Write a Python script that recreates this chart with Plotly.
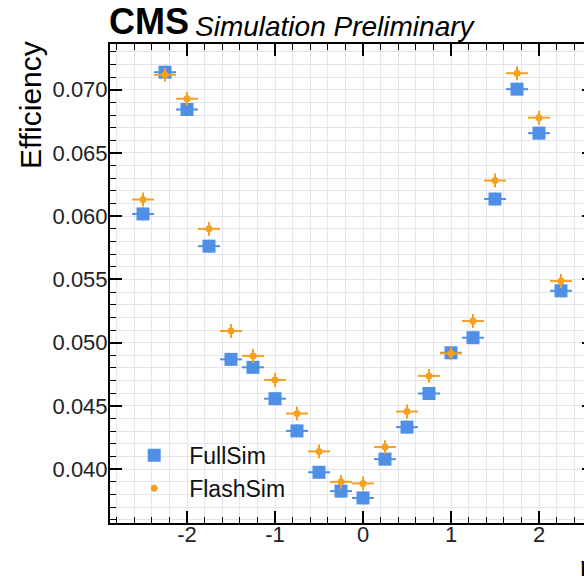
import plotly.graph_objects as go

# ---- data ----
eta = [-2.5, -2.25, -2.0, -1.75, -1.5, -1.25, -1.0, -0.75, -0.5, -0.25,
       0.0, 0.25, 0.5, 0.75, 1.0, 1.25, 1.5, 1.75, 2.0, 2.25]
eta_halfwidth = [0.125] * len(eta)

fullsim_eff = [0.06018, 0.07139, 0.06844, 0.05763, 0.04868, 0.04805, 0.04557,
               0.04302, 0.03975, 0.03826, 0.03772, 0.04079, 0.04332, 0.04598,
               0.04920, 0.05039, 0.06136, 0.07005, 0.06657, 0.05410]
fullsim_err = [0.0005] * len(eta)

flashsim_eff = [0.06132, 0.07118, 0.06929, 0.05900, 0.05092, 0.04895, 0.04705,
                0.04440, 0.04140, 0.03899, 0.03887, 0.04174, 0.04455, 0.04737,
                0.04915, 0.05171, 0.06282, 0.07131, 0.06779, 0.05487]
flashsim_err = [0.00055] * len(eta)

x_tickvals = [-2, -1, 0, 1, 2]
x_ticktext = ["-2", "-1", "0", "1", "2"]
y_tickvals = [0.040, 0.045, 0.050, 0.055, 0.060, 0.065, 0.070]
y_ticktext = ["0.040", "0.045", "0.050", "0.055", "0.060", "0.065", "0.070"]

BLUE = "#4f8fe6"
ORANGE = "#f5a01e"
FONT = "Liberation Sans, Arial, Helvetica, sans-serif"

fig = go.Figure()
fig.add_trace(go.Scatter(
    x=eta, y=fullsim_eff, mode="markers", name="FullSim", legendgroup="a",
    marker=dict(symbol="square", size=13, color=BLUE),
    error_x=dict(type="data", array=eta_halfwidth, color=BLUE, thickness=2, width=0),
    error_y=dict(type="data", array=fullsim_err, color=BLUE, thickness=2, width=0),
))
fig.add_trace(go.Scatter(
    x=eta, y=flashsim_eff, mode="markers", name="FlashSim", legendgroup="b",
    marker=dict(symbol="circle", size=7, color=ORANGE),
    error_x=dict(type="data", array=eta_halfwidth, color=ORANGE, thickness=2, width=0),
    error_y=dict(type="data", array=flashsim_err, color=ORANGE, thickness=2, width=0),
))

GRID = "#e4e4ec"
axis_common = dict(
    showline=True, linecolor="black", linewidth=2, mirror="allticks",
    ticks="inside", ticklen=12, tickwidth=1.5, tickcolor="black",
    showgrid=True, gridcolor=GRID, gridwidth=1, zeroline=False,
    tickfont=dict(family=FONT, size=22, color="#222"),
)

fig.update_xaxes(
    range=[-2.875, 2.625], tickmode="array", tickvals=x_tickvals, ticktext=x_ticktext,
    ticklabelstandoff=-9,
    minor=dict(dtick=0.2, tick0=0, ticks="inside", ticklen=6, tickwidth=1.2,
               tickcolor="black", showgrid=True, gridcolor=GRID, gridwidth=1),
    **axis_common,
)
fig.update_yaxes(
    range=[0.035737, 0.07362], tickmode="array", tickvals=y_tickvals, ticktext=y_ticktext,
    ticklabelstandoff=-4,
    minor=dict(dtick=0.001, tick0=0, ticks="inside", ticklen=6, tickwidth=1.2,
               tickcolor="black", showgrid=True, gridcolor=GRID, gridwidth=1),
    **axis_common,
)

fig.update_layout(
    width=640, height=584,
    margin=dict(l=110, r=46, t=44, b=61),
    paper_bgcolor="white", plot_bgcolor="white",
    font=dict(family=FONT, color="black"),
    showlegend=True,
    legend=dict(
        x=0.019, y=0.186, xanchor="left", yanchor="top",
        bgcolor="rgba(0,0,0,0)", borderwidth=0,
        font=dict(family=FONT, size=23, color="#111"),
        traceorder="grouped", tracegroupgap=0, itemwidth=60,
    ),
    annotations=[
        dict(text="<b>CMS</b>", xref="paper", yref="paper", x=0, y=1,
             xanchor="left", yanchor="bottom", showarrow=False, xshift=-3,
             font=dict(family=FONT, size=36, color="black")),
        dict(text="<i>Simulation Preliminary</i>", xref="paper", yref="paper",
             x=0.172, y=1, xanchor="left", yanchor="bottom", showarrow=False,
             font=dict(family=FONT, size=28, color="black")),
        dict(text="Efficiency", xref="paper", yref="paper", x=-0.1652, y=1,
             xanchor="center", yanchor="top", textangle=-90, showarrow=False,
             yshift=5, font=dict(family=FONT, size=30, color="black")),
        dict(text="η", xref="paper", yref="paper", x=1, y=-0.0919,
             xanchor="right", yanchor="middle", showarrow=False, xshift=3,
             font=dict(family=FONT, size=27, color="black")),
    ],
)

fig.write_html("out.html", post_script="document.body.style.overflow='hidden';document.documentElement.style.overflow='hidden';")
